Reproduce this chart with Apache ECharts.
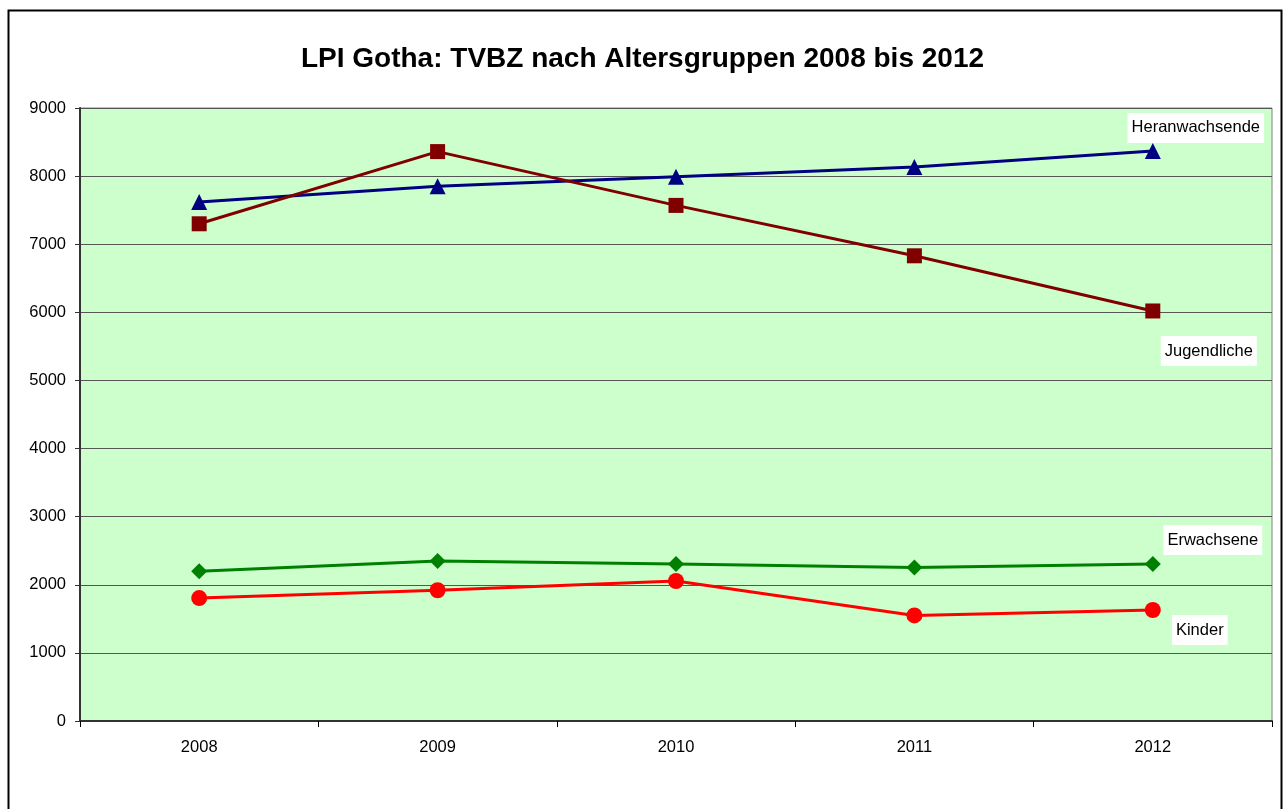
<!DOCTYPE html>
<html>
<head>
<meta charset="utf-8">
<script src="https://cdn.jsdelivr.net/npm/echarts@6/dist/echarts.min.js"></script>
<style>
  html, body { margin: 0; padding: 0; background: #fff; }
  #chart { width: 1285px; height: 809px; }
</style>
</head>
<body>
<div id="chart"></div>
<script>
// Daten
var jahre = ['2008', '2009', '2010', '2011', '2012'];
var heranwachsende = [7620, 7850, 7990, 8135, 8370];
var jugendliche = [7300, 8360, 7570, 6830, 6020];
var erwachsene = [2200, 2350, 2305, 2255, 2305];
var kinder = [1805, 1920, 2055, 1550, 1630];
var yTicks = [0, 1000, 2000, 3000, 4000, 5000, 6000, 7000, 8000, 9000];

var font = 'Liberation Sans, Arial, sans-serif';

function endLabel(offset) {
    return {
        show: true,
        formatter: '{a}',
        position: 'inside',
        offset: offset,
        color: '#000',
        fontFamily: font,
        fontSize: 16.5,
        backgroundColor: '#fff',
        padding: [7, 4, 6, 4]
    };
}

function serie(name, data, color, symbol, size, offset) {
    var d = data.map(function (v, i) {
        if (i === data.length - 1) return { value: v, label: endLabel(offset) };
        return v;
    });
    return {
        name: name,
        type: 'line',
        data: d,
        symbol: symbol,
        symbolSize: size,
        showAllSymbol: true,
        lineStyle: { color: color, width: 3 },
        itemStyle: { color: color },
        emphasis: { disabled: true },
        z: 3
    };
}

var myChart = echarts.init(document.getElementById('chart'));
var option = {
    animation: false,
    title: {
        text: 'LPI Gotha: TVBZ nach Altersgruppen 2008 bis 2012',
        left: 'center',
        top: 40,
        textStyle: { fontFamily: font, fontSize: 28, fontWeight: 'bold', color: '#000' }
    },
    graphic: [{
        type: 'rect',
        shape: { x: 8.5, y: 10.5, width: 1273, height: 820 },
        style: { fill: 'none', stroke: '#000', lineWidth: 2 },
        silent: true
    }],
    grid: {
        left: 80, right: 13, top: 108, bottom: 88,
        show: true,
        backgroundColor: '#CCFFCC',
        borderColor: '#808080',
        borderWidth: 1
    },
    xAxis: {
        type: 'category',
        data: jahre,
        boundaryGap: true,
        axisLine: { lineStyle: { color: '#333', width: 2 } },
        axisTick: { show: true, length: 6, lineStyle: { color: '#000' } },
        axisLabel: { fontFamily: font, fontSize: 16.5, color: '#000', margin: 18 },
        splitLine: { show: false }
    },
    yAxis: {
        type: 'value',
        min: yTicks[0],
        max: yTicks[yTicks.length - 1],
        interval: 1000,
        axisLine: { show: true, lineStyle: { color: '#333', width: 2 } },
        axisTick: { show: true, length: 5, lineStyle: { color: '#333' } },
        axisLabel: {
            fontFamily: font, fontSize: 16.5, color: '#000', margin: 14,
            formatter: function (v) { return String(v); }
        },
        splitLine: { show: true, lineStyle: { color: '#555', width: 1 } }
    },
    series: [
        serie('Heranwachsende', heranwachsende, '#000080', 'triangle', 16, [43, -23]),
        serie('Jugendliche', jugendliche, '#800000', 'rect', 15, [56, 40]),
        serie('Erwachsene', erwachsene, '#008000', 'diamond', 16, [60, -24]),
        serie('Kinder', kinder, '#FF0000', 'circle', 16, [47, 20])
    ]
};
myChart.setOption(option);
</script>
</body>
</html>
